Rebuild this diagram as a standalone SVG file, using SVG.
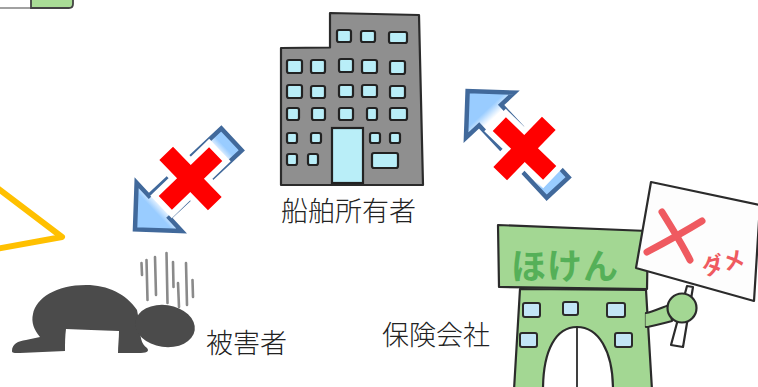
<svg xmlns="http://www.w3.org/2000/svg" width="758" height="387" viewBox="0 0 758 387">
  <defs>
    <style>
      .label { font-family: "Noto Sans CJK JP", "Noto Sans", sans-serif; font-size: 27px; fill: #222; font-weight: 300; }
      .ink { stroke: #2b2b2b; stroke-width: 2.2; stroke-linejoin: round; }
      .win { fill: #b9eef8; stroke: #222; stroke-width: 2.2; }
      .gwin { fill: #c3e6f7; stroke: #2b2b2b; stroke-width: 2; }
      .arrow { stroke: #41699b; stroke-width: 4.5; stroke-linejoin: miter; }
      .cross { fill: #ff0000; stroke: #ffffff; stroke-width: 12; stroke-linejoin: miter; paint-order: stroke; }
      .gloom { stroke: #8a8a8a; stroke-width: 2.6; stroke-linecap: round; fill: none; }
      .redpen { stroke: #ef5a60; stroke-width: 7; stroke-linecap: round; fill: none; }
    </style>
    <!-- arrow body fill: blue at both ends, white in the middle (local x runs tail → tip) -->
    <linearGradient id="arrowFill" gradientUnits="userSpaceOnUse" x1="0" y1="0" x2="134" y2="0">
      <stop offset="0" stop-color="#99ccff"/>
      <stop offset="0.09" stop-color="#99ccff"/>
      <stop offset="0.16" stop-color="#ffffff"/>
      <stop offset="0.72" stop-color="#ffffff"/>
      <stop offset="0.8" stop-color="#99ccff"/>
      <stop offset="1" stop-color="#99ccff"/>
    </linearGradient>
    <!-- block arrow, tail at origin, pointing along +x -->
    <polygon id="blockArrow" points="2,-15 101,-15 101,-33 134,0 101,33 101,15 2,15"/>
    <!-- multiply sign -->
    <polygon id="crossShape" points="-9.5,-35 9.5,-35 9.5,-9.5 35,-9.5 35,9.5 9.5,9.5 9.5,35 -9.5,35 -9.5,9.5 -35,9.5 -35,-9.5 -9.5,-9.5"/>
    <filter id="soft" x="-10%" y="-10%" width="120%" height="120%">
      <feGaussianBlur stdDeviation="0.6"/>
    </filter>
  </defs>

  <rect width="758" height="387" fill="#ffffff"/>

  <!-- partial shapes at the left edge -->
  <g id="edge-left">
    <path d="M0,8 L31,8" stroke="#8a8a8a" stroke-width="1.6" fill="none"/>
    <path d="M31,-3 L31,8 L69,8 Q73,8 73,4 L73,-3 Z" fill="#a9dc96" stroke="#444" stroke-width="1.8"/>
    <polyline points="-4,187 62,237 -4,249" fill="none" stroke="#ffc000" stroke-width="6" stroke-linejoin="round"/>
  </g>

  <!-- ship owner: office building -->
  <g id="owner">
    <path class="ink" d="M281,48 L330,47.5 L330,13 L419,15 L423,185 L281,185 Z" fill="#8f8f8f" stroke-width="2.5"/>
    <g>
      <rect class="win" x="337" y="30" width="14" height="12" rx="2"/>
      <rect class="win" x="361" y="31" width="14" height="11" rx="2"/>
      <rect class="win" x="389" y="32" width="18" height="11" rx="2"/>

      <rect class="win" x="287" y="60" width="15" height="13" rx="2"/>
      <rect class="win" x="311" y="60" width="14" height="13" rx="2"/>
      <rect class="win" x="339" y="59" width="14" height="13" rx="2"/>
      <rect class="win" x="362" y="60" width="15" height="13" rx="2"/>
      <rect class="win" x="390" y="61" width="15" height="13" rx="2"/>

      <rect class="win" x="287" y="85" width="15" height="13" rx="2"/>
      <rect class="win" x="311" y="86" width="14" height="12" rx="2"/>
      <rect class="win" x="339" y="85" width="14" height="12" rx="2"/>
      <rect class="win" x="362" y="85" width="15" height="12" rx="2"/>
      <rect class="win" x="390" y="86" width="15" height="12" rx="2"/>

      <rect class="win" x="287" y="108" width="12" height="12" rx="2"/>
      <rect class="win" x="312" y="108" width="13" height="12" rx="2"/>
      <rect class="win" x="339" y="108" width="14" height="12" rx="2"/>
      <rect class="win" x="367" y="108" width="10" height="12" rx="2"/>
      <rect class="win" x="390" y="108" width="17" height="12" rx="2"/>

      <rect class="win" x="287" y="133" width="10" height="10" rx="2"/>
      <rect class="win" x="311" y="133" width="10" height="10" rx="2"/>
      <rect class="win" x="370" y="133" width="10" height="10" rx="2"/>
      <rect class="win" x="390" y="133" width="10" height="10" rx="2"/>

      <rect class="win" x="287" y="154" width="10" height="11" rx="2"/>
      <rect class="win" x="308" y="154" width="10" height="11" rx="2"/>
      <rect class="win" x="372" y="153" width="26" height="15" rx="2"/>

      <rect class="win" x="332" y="128" width="31" height="55" fill="#a9e6f3"/>
    </g>
    <text class="label" x="281" y="221">船舶所有者</text>
  </g>

  <!-- victim: kneeling figure -->
  <g id="victim">
    <g filter="url(#soft)">
      <path fill="#4b4b4b" d="M12,351 C12,344 18,341 26,340 L40,337 C34,330 31,322 33,314 C36,298 56,285 86,285 C108,285 126,294 137,310 L140,326 C140,336 141,344 147,348 C150,352 146,353 138,353 L118,353 C118,346 119,338 119,331 C100,330 82,330 66,329 C65,336 65,344 65,351 L20,353 C14,353 12,353 12,351 Z"/>
      <ellipse cx="165" cy="326" rx="30" ry="21" fill="#4b4b4b" transform="rotate(8 165 326)"/>
      <path class="gloom" d="M141.5,263 L142,275 M146.5,260 L147.5,300 M155,257 L156,295 M166.5,253 L167.5,303 M173,262 L173.5,287 M178,283 L179,307 M186,263 L187,305 M192.5,280 L193,297"/>
    </g>
    <text class="label" x="206" y="353">被害者</text>
  </g>

  <!-- insurer: green building holding a sign -->
  <g id="insurer">
    <path class="ink" d="M687,286 L693,287 L683,347 L671,345 Z" fill="#ffffff" stroke-width="2"/>
    <path class="ink" d="M520,289 L646,290 L652,390 L514,390 Z" fill="#a3d793"/>
    <path class="ink" d="M498,225 L648,231 L647,289 L499,287 Z" fill="#a3d793"/>
    <text x="511" y="279" font-family="'Noto Sans CJK JP', sans-serif" font-size="35" font-weight="700" fill="#55b058" letter-spacing="1">ほけん</text>
    <rect class="gwin" x="523" y="303" width="17" height="14" rx="2"/>
    <rect class="gwin" x="563" y="302" width="15" height="13" rx="2"/>
    <rect class="gwin" x="607" y="303" width="18" height="14" rx="2"/>
    <rect class="gwin" x="520" y="333" width="17" height="14" rx="2"/>
    <rect class="gwin" x="615" y="333" width="17" height="14" rx="2"/>
    <path class="ink" d="M543,390 C543,350 556,327 577,327 C598,327 613,350 613,390 Z" fill="#ffffff" stroke-width="2"/>
    <path d="M577,327 L577,390" stroke="#2b2b2b" stroke-width="1.8"/>
    <path class="ink" d="M646,313 C655,311 662,307 670,305 L672,321 C664,323 655,326 646,327 Z" fill="#a3d793" stroke-width="2"/>
    <path d="M647,314 L647,326" stroke="#a3d793" stroke-width="3"/>
    <circle class="ink" cx="682" cy="308" r="14.5" fill="#a3d793" stroke-width="2"/>
    <path class="ink" d="M651,182 L760,205 L754,301 L636,268 Z" fill="#fdfdfd" stroke-width="2.2"/>
    <path class="redpen" d="M662,212 C672,228 682,244 690,260"/>
    <path class="redpen" d="M702,221 C684,232 664,243 647,252"/>
    <text x="704" y="276" font-family="'Noto Sans CJK JP', sans-serif" font-size="22" font-weight="700" fill="#ef5a60" transform="rotate(-14 704 276)">ダメ</text>
    <text class="label" x="382" y="345">保険会社</text>
  </g>

  <!-- blocked relations -->
  <g id="connectors">
    <g transform="translate(233 138) rotate(137)">
      <use href="#blockArrow" class="arrow" fill="url(#arrowFill)"/>
    </g>
    <use href="#crossShape" class="cross" transform="translate(190.5 178.5) rotate(46)"/>
    <g transform="translate(559 189) rotate(-133)">
      <use href="#blockArrow" class="arrow" fill="url(#arrowFill)"/>
    </g>
    <use href="#crossShape" class="cross" transform="translate(524.5 148.5) rotate(44)"/>
  </g>
</svg>
